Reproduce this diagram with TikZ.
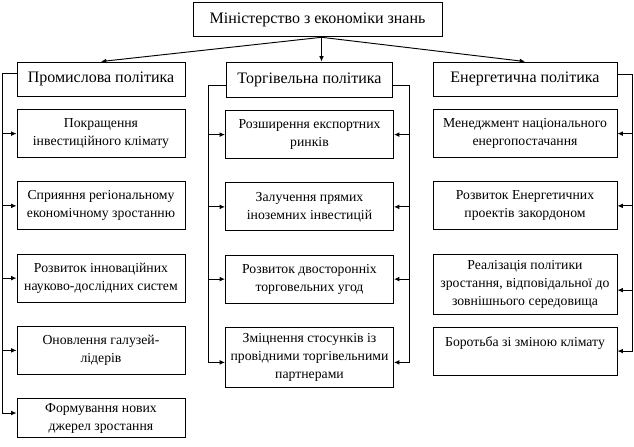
\documentclass[tikz,border=0pt]{standalone}
\usepackage{fontspec}
\setmainfont{Liberation Serif}
\usetikzlibrary{arrows.meta,positioning,calc}

\begin{document}
\begin{tikzpicture}[x=0.75pt,y=-0.75pt,node distance=17.5pt,line width=0.7pt,
  every node/.style={font=\fontsize{10.3}{13.5}\selectfont},
  head/.style={draw,minimum height=25.5pt,inner sep=2pt,font=\fontsize{12}{14}\selectfont},
  item/.style={draw,align=center,minimum width=126pt,minimum height=36pt,inner sep=2pt},
  wide/.style={minimum width=138pt},
  tall/.style={minimum height=45pt},
  arr/.style={-{Latex[length=4pt,width=3.5pt]}}]
\useasboundingbox (0,0) rectangle (634,446);
\node[head,minimum width=186.75pt,minimum height=26pt] (min) at (317.5,19.5) {Міністерство з економіки знань};
\node[head,minimum width=126pt] (prom) at (101,79) {Промислова політика};
\node[head,minimum width=125pt,minimum height=26.25pt] (torg) at (309.5,79.5) {Торгівельна політика};
\node[head,minimum width=138pt] (energ) at (525,79) {Енергетична політика};
\node[item,below=9.5pt of prom] (p1) {Покращення\\інвестиційного клімату};
\node[item,below=of p1] (p2) {Сприяння регіональному\\економічному зростанню};
\node[item,below=of p2] (p3) {Розвиток інноваційних\\науково-дослідних систем};
\node[item,below=of p3] (p4) {Оновлення галузей-\\лідерів};
\node[item,below=of p4,minimum height=29pt] (p5) {Формування нових\\джерел зростання};
\node[item,below=9.5pt of torg] (t1) {Розширення експортних\\ринків};
\node[item,below=of t1] (t2) {Залучення прямих\\іноземних інвестицій};
\node[item,below=of t2] (t3) {Розвиток двосторонніх\\торговельних угод};
\node[item,tall,below=of t3] (t4) {Зміцнення стосунків із\\провідними торгівельними\\партнерами};
\node[item,wide,below=9.5pt of energ] (e1) {Менеджмент національного\\енергопостачання};
\node[item,wide,below=of e1] (e2) {Розвиток Енергетичних\\проектів закордоном};
\node[item,wide,tall,below=of e2] (e3) {Реалізація політики\\зростання, відповідальної до\\зовнішнього середовища};
\node[item,wide,below=9pt of e3] (e4) {Боротьба зі зміною клімату\\\phantom{Б}};
\coordinate (fork) at ($(min.south)+(4,0)$);
\draw[arr] (fork) -- (prom.north);
\draw[arr] (fork) -- (fork |- torg.north);
\draw[arr] (fork) -- (energ.north);
\coordinate (pl) at ($(prom.west)+(-14,-6)$);
\coordinate (p5w) at ($(p5.west)+(0,-5)$);
\draw[arr] (prom.west |- pl) -- (pl) |- (p5w);
\foreach \n in {p1,p2,p3,p4} \draw[arr] (pl |- \n.west) -- (\n.west);
\coordinate (tl) at ($(torg.west)+(-17,5.5)$);
\coordinate (tr) at ($(torg.east)+(16,5.5)$);
\coordinate (t4w) at ($(t4.west)+(0,5)$);
\coordinate (t4e) at ($(t4.east)+(0,5)$);
\draw[arr] (torg.west |- tl) -- (tl) |- (t4w);
\draw[arr] (torg.east |- tr) -- (tr) |- (t4e);
\foreach \n in {t1,t2,t3} {
  \draw[arr] (tl |- \n.west) -- (\n.west);
  \draw[arr] (tr |- \n.east) -- (\n.east);
}
\coordinate (er) at ($(energ.east)+(15,-5)$);
\coordinate (e3e) at ($(e3.east)+(0,6)$);
\draw[arr] (energ.east |- er) -- (er) |- (e4.east);
\foreach \n in {e1,e2} \draw[arr] (er |- \n.east) -- (\n.east);
\draw[arr] (er |- e3e) -- (e3e);
\end{tikzpicture}
\end{document}
